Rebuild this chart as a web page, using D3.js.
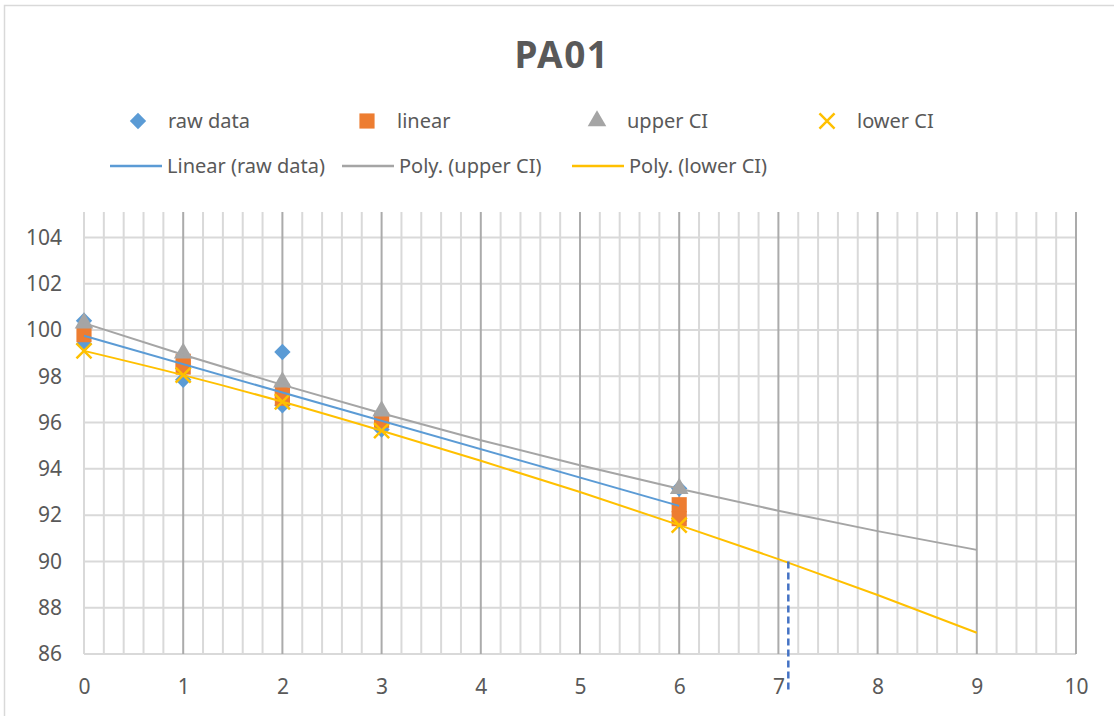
<!DOCTYPE html>
<html>
<head>
<meta charset="utf-8">
<script src="https://cdn.jsdelivr.net/npm/d3@7"></script>
<style>
  html, body { margin: 0; padding: 0; background: #fff; }
  svg { display: block; font-family: "Noto Sans", sans-serif; }
</style>
</head>
<body>
<svg id="chart" width="1114" height="716"></svg>
<script>
// scatter series, [x, y]
const rawData = [[0, 100.4], [0, 99.4], [1, 97.85], [2, 99.05], [2, 96.75], [3, 95.7], [6, 93.15], [6, 91.75]];
const linearData = [[0, 99.8], [1, 98.65], [1, 98.4], [2, 97.35], [2, 97.05], [3, 96.1], [6, 92.45], [6, 91.85]];
const upperData = [[0, 100.3], [1, 99.0], [2, 97.75], [3, 96.5], [6, 93.15]];
const lowerData = [[0, 99.1], [1, 98.05], [2, 96.9], [3, 95.65], [6, 91.57]];

// trendlines
const trendLinX = [0, 6];
const trendLinY = [99.75, 92.4];
const trendX = [0, 1, 2, 3, 4, 5, 6, 7, 8, 9];
const trendUpperY = [100.3, 98.93, 97.63, 96.4, 95.24, 94.16, 93.14, 92.19, 91.31, 90.5];
const trendLowerY = [99.1, 98.05, 96.9, 95.65, 94.35, 93.0, 91.57, 90.1, 88.55, 86.92];

// dashed marker line
const cutX = 7.1;
const cutY = [90.0, 84.45];

const xTicks = [0, 1, 2, 3, 4, 5, 6, 7, 8, 9, 10];
const yTicks = [86, 88, 90, 92, 94, 96, 98, 100, 102, 104];

const cBlue = "#5B9BD5", cOrange = "#ED7D31", cGray = "#A5A5A5", cYellow = "#FFC000";
const textCol = "#595959";

const svg = d3.select("#chart");

svg.append("rect")
    .attr("x", 4.5).attr("y", 5.5)
    .attr("width", 1130).attr("height", 730)
    .attr("fill", "#fff").attr("stroke", "#D9D9D9").attr("stroke-width", 1.5);

const x = d3.scaleLinear().domain([0, 10]).range([84, 1076]);
const y = d3.scaleLinear().domain([86, 105.1]).range([654, 212]);

// grid
const g = svg.append("g");
g.selectAll("line.hg")
    .data(yTicks)
    .enter()
    .append("line")
    .attr("x1", x(0)).attr("x2", x(10))
    .attr("y1", d => y(d)).attr("y2", d => y(d))
    .attr("stroke", "#D9D9D9").attr("stroke-width", 2);

const minor = d3.range(0, 50).map(i => i / 5).filter(v => v % 1 !== 0);
g.selectAll("line.vm")
    .data(minor)
    .enter()
    .append("line")
    .attr("x1", d => x(d)).attr("x2", d => x(d))
    .attr("y1", y.range()[1]).attr("y2", y(86))
    .attr("stroke", "#D9D9D9").attr("stroke-width", 2);

g.selectAll("line.vM")
    .data(xTicks)
    .enter()
    .append("line")
    .attr("x1", d => x(d)).attr("x2", d => x(d))
    .attr("y1", y.range()[1]).attr("y2", y(86))
    .attr("stroke", d => d === 0 ? "#D9D9D9" : "#ABABAB")
    .attr("stroke-width", 2);

// axis labels
const xAxis = svg.append("g")
    .attr("transform", `translate(0,${y(86)})`)
    .call(d3.axisBottom(x).tickValues(xTicks).tickSize(0).tickPadding(25));
const yAxis = svg.append("g")
    .attr("transform", `translate(${x(0)},0)`)
    .call(d3.axisLeft(y).tickValues(yTicks).tickSize(0).tickPadding(22));
[xAxis, yAxis].forEach(a => {
    a.select(".domain").remove();
    a.selectAll("text")
        .attr("fill", textCol)
        .style("font-size", "21px")
        .style("font-family", "'Noto Sans', sans-serif");
});

// trendlines
const line = d3.line().x(d => x(d[0])).y(d => y(d[1])).curve(d3.curveMonotoneX);
const trends = [
    { pts: d3.zip(trendX, trendUpperY), col: cGray },
    { pts: d3.zip(trendX, trendLowerY), col: cYellow },
    { pts: d3.zip(trendLinX, trendLinY), col: cBlue }
];

// markers
const sym = {
    diamond: d3.symbol().type(d3.symbolDiamond2).size(170),
    square: d3.symbol().type(d3.symbolSquare).size(230),
    triangle: d3.symbol().type(d3.symbolTriangle).size(150),
    cross: d3.symbol().type(d3.symbolTimes).size(150)
};

function markers(data, s, col) {
    const m = svg.append("g").selectAll("path")
        .data(data)
        .enter()
        .append("path")
        .attr("transform", d => `translate(${x(d[0])},${y(d[1])})`)
        .attr("d", sym[s]);
    if (s === "cross") {
        m.attr("fill", "none").attr("stroke", col).attr("stroke-width", 2.5);
    } else {
        m.attr("fill", col);
    }
}

markers(rawData, "diamond", cBlue);
markers(linearData, "square", cOrange);
markers(upperData, "triangle", cGray);
markers(lowerData, "cross", cYellow);

trends.forEach(t => {
    svg.append("path")
        .datum(t.pts)
        .attr("d", line)
        .attr("fill", "none")
        .attr("stroke", t.col)
        .attr("stroke-width", 2);
});

svg.append("line")
    .attr("x1", x(cutX)).attr("x2", x(cutX))
    .attr("y1", y(cutY[0])).attr("y2", y(cutY[1]))
    .attr("stroke", "#4472C4").attr("stroke-width", 2.5)
    .attr("stroke-dasharray", "7,4");

// title
svg.append("text")
    .attr("x", 562).attr("y", 68)
    .attr("text-anchor", "middle")
    .attr("fill", textCol)
    .style("font-size", "37px").style("font-weight", "bold")
    .style("letter-spacing", "1.5px")
    .text("PA01");

// legend
const legend1 = [
    { name: "raw data", s: "diamond", col: cBlue, x: 138 },
    { name: "linear", s: "square", col: cOrange, x: 367 },
    { name: "upper CI", s: "triangle", col: cGray, x: 597 },
    { name: "lower CI", s: "cross", col: cYellow, x: 827 }
];
legend1.forEach(d => {
    const p = svg.append("path")
        .attr("transform", `translate(${d.x},121)`)
        .attr("d", sym[d.s]);
    if (d.s === "cross") p.attr("fill", "none").attr("stroke", d.col).attr("stroke-width", 2.5);
    else p.attr("fill", d.col);
    svg.append("text")
        .attr("x", d.x + 30).attr("y", 128)
        .attr("fill", textCol).style("font-size", "20px")
        .text(d.name);
});

const legend2 = [
    { name: "Linear (raw data)", col: cBlue, x: 110 },
    { name: "Poly. (upper CI)", col: cGray, x: 342 },
    { name: "Poly. (lower CI)", col: cYellow, x: 572 }
];
legend2.forEach(d => {
    svg.append("line")
        .attr("x1", d.x).attr("x2", d.x + 52)
        .attr("y1", 166).attr("y2", 166)
        .attr("stroke", d.col).attr("stroke-width", 2.5);
    svg.append("text")
        .attr("x", d.x + 57).attr("y", 173)
        .attr("fill", textCol).style("font-size", "20px")
        .text(d.name);
});
</script>
</body>
</html>
